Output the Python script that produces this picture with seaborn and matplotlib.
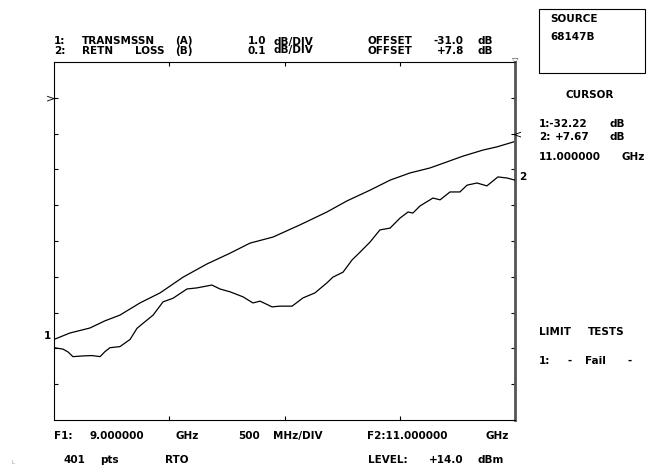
import pandas as pd
import seaborn as sns
import matplotlib.pyplot as plt

# trace 1: transmission (dB), 1.0 dB/div
freq1 = [9.000, 9.069, 9.156, 9.221, 9.286, 9.373, 9.460, 9.560, 9.664, 9.764, 9.850, 9.950,
         10.067, 10.184, 10.271, 10.371, 10.458, 10.544, 10.631, 10.705, 10.774, 10.861, 10.922, 11.000]
trans_db = [-37.75, -37.57, -37.43, -37.23, -37.07, -36.73, -36.45, -36.01, -35.64, -35.34, -35.06, -34.89,
            -34.55, -34.19, -33.88, -33.58, -33.30, -33.10, -32.96, -32.79, -32.63, -32.46, -32.37, -32.22]

# trace 2: return loss (dB), 0.1 dB/div
freq2 = [9.000, 9.039, 9.061, 9.082, 9.126, 9.165, 9.200, 9.221, 9.243, 9.286, 9.330, 9.360, 9.386,
         9.430, 9.473, 9.516, 9.577, 9.620, 9.685, 9.720, 9.764, 9.820, 9.863, 9.894, 9.946, 9.980,
         10.033, 10.080, 10.132, 10.184, 10.210, 10.254, 10.293, 10.328, 10.371, 10.414, 10.458, 10.501,
         10.536, 10.557, 10.588, 10.644, 10.675, 10.718, 10.761, 10.792, 10.835, 10.878, 10.926, 10.965, 11.000]
retn_db = [7.202, 7.198, 7.190, 7.177, 7.179, 7.180, 7.177, 7.191, 7.202, 7.205, 7.225, 7.256, 7.270,
           7.293, 7.330, 7.340, 7.366, 7.369, 7.377, 7.366, 7.358, 7.344, 7.327, 7.332, 7.316, 7.318,
           7.318, 7.341, 7.355, 7.383, 7.399, 7.413, 7.447, 7.469, 7.497, 7.531, 7.536, 7.564,
           7.581, 7.578, 7.598, 7.620, 7.615, 7.637, 7.637, 7.656, 7.662, 7.654, 7.679, 7.676, 7.670]

x_ticks = [9.5, 10.0, 10.5]

sns.set_style("white")
plt.rcParams["font.family"] = ["DejaVu Sans"]

W, H = 647, 468
fig = plt.figure(figsize=(W / 100, H / 100), dpi=100)
ax = fig.add_axes([54 / W, 1 - 420 / H, 461 / W, 358 / H])
ax2 = ax.twinx()

df1 = pd.DataFrame({"freq": freq1, "db": trans_db})
df2 = pd.DataFrame({"freq": freq2, "db": retn_db})
sns.lineplot(data=df1, x="freq", y="db", ax=ax, color="black", lw=0.9, legend=False)
sns.lineplot(data=df2, x="freq", y="db", ax=ax2, color="black", lw=0.9, legend=False)

ax.set_xlim(9.0, 11.0)
ax.set_ylim(-40, -30)
ax2.set_ylim(7.0, 8.0)
ax.set_xlabel("")
ax.set_ylabel("")
ax2.set_ylabel("")

ax.set_xticks(x_ticks)
ax.set_yticks(range(-39, -30))
ax.tick_params(axis="both", direction="in", length=3, width=0.8, color="black",
               labelleft=False, labelbottom=False, left=True, bottom=True, top=True, right=True)
ax2.set_yticks([])
for s in ["top", "left", "bottom"]:
    ax.spines[s].set_color("black")
    ax.spines[s].set_linewidth(0.8)
ax.spines["right"].set_color("#555555")
ax.spines["right"].set_linewidth(2)
for s in ax2.spines.values():
    s.set_visible(False)

FS = 7.5


def txt(x, y, s, ha="left", size=FS, weight="bold", color="black"):
    fig.text(x / W, 1 - y / H, s, ha=ha, va="center", fontsize=size,
             fontweight=weight, color=color)


# header
for x, s in [(54, "1:"), (82, "TRANSMSSN"), (175, "(A)"), (248, "1.0"), (273, "dB/DIV"),
             (368, "OFFSET"), (477, "dB")]:
    txt(x, 41.5, s)
txt(464, 41.5, "-31.0", ha="right")
for x, s in [(54, "2:"), (82, "RETN"), (135, "LOSS"), (175, "(B)"), (248, "0.1"), (273, "dB/DIV"),
             (368, "OFFSET"), (477, "dB")]:
    txt(x, 50.5, s)
txt(464, 50.5, "+7.8", ha="right")

# footer
for x, s in [(54, "F1:"), (90, "9.000000"), (176, "GHz"), (238, "500"), (273, "MHz/DIV"),
             (367, "F2:11.000000"), (485, "GHz")]:
    txt(x, 436, s)
for x, s in [(63, "401"), (100, "pts"), (165, "RTO"), (368, "LEVEL:"), (477, "dBm")]:
    txt(x, 460, s)
txt(464, 460, "+14.0", ha="right")
txt(12, 463, "L", size=4, weight="normal", color="#999999")

# right panel
fig.patches.append(plt.Rectangle((539 / W, 1 - 73 / H), 106 / W, 64 / H, transform=fig.transFigure,
                                 fill=False, edgecolor="black", lw=0.8))
txt(550, 19, "SOURCE")
txt(550, 37, "68147B")
txt(565, 95, "CURSOR")
txt(539, 124, "1:-32.22")
txt(610, 124, "dB")
txt(539, 137, "2:")
txt(590, 137, "+7.67", ha="right")
txt(610, 137, "dB")
txt(539, 157, "11.000000")
txt(645, 157, "GHz", ha="right")
txt(539, 332, "LIMIT")
txt(588, 332, "TESTS")
for x, s in [(539, "1:"), (567, "-"), (585, "Fail"), (628, "-")]:
    txt(x, 361, s)

# trace / reference markers
txt(51, 98, ">", ha="center", size=8, weight="normal")
txt(517, 134, "<", ha="center", size=8, weight="normal")
txt(47, 336, "1", ha="center")
txt(523, 177, "2", ha="center")
txt(515, 60, "\u25bd", ha="center", size=6, weight="normal", color="#555555")

fig.savefig("out.png", dpi=100)
